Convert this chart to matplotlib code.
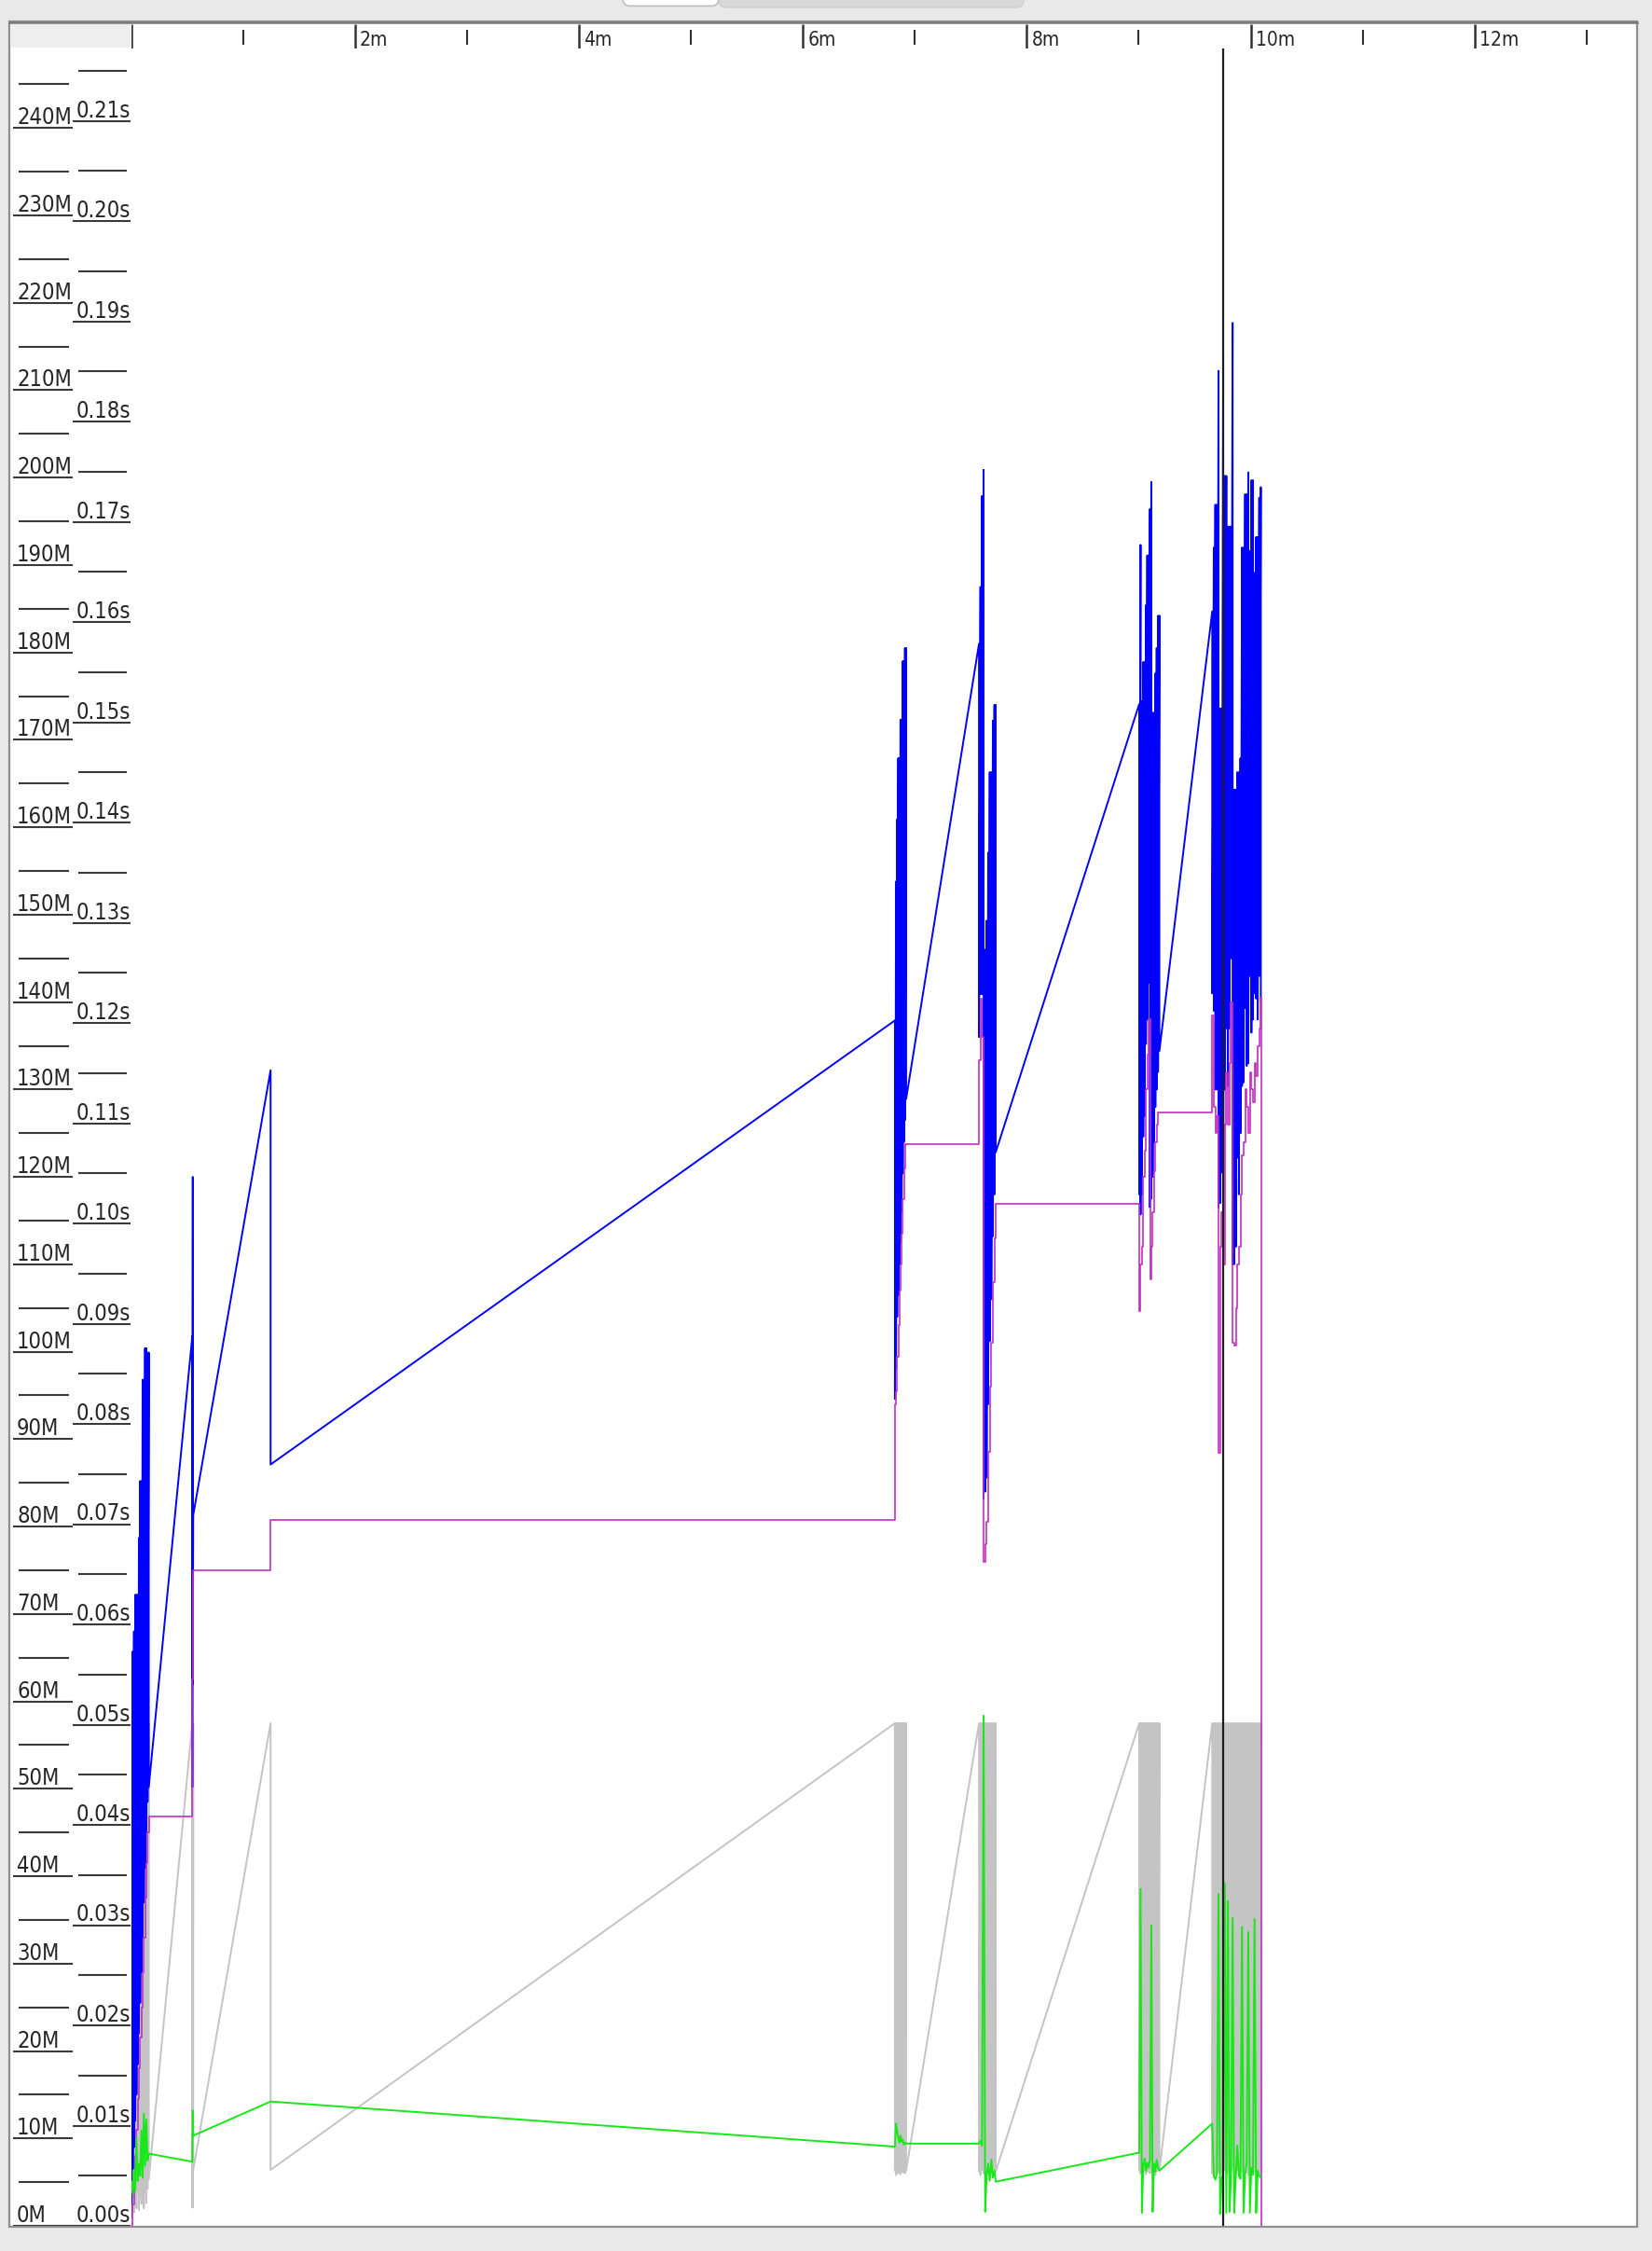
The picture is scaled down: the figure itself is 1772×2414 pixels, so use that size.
import numpy as np
import matplotlib
matplotlib.use("Agg")
import matplotlib.pyplot as plt
from matplotlib import font_manager as fm
from matplotlib.patches import Rectangle, FancyBboxPatch

# GC events
# time in minutes, heap sizes in MB, pauses in seconds

# start-up burst
a_t = [0.004, 0.015, 0.026, 0.037, 0.048, 0.059, 0.070, 0.081, 0.092, 0.103, 0.114, 0.125, 0.136, 0.147, 0.158]
a_heap_before = [59.0, 65.7, 68.0, 72.2, 72.2, 72.2, 78.7, 85.2, 85.2, 96.8, 96.8, 100.4, 100.4, 99.9, 99.9]
a_heap_after = [1.0, 6.5, 9.0, 12.0, 15.0, 18.5, 22.0, 25.5, 29.0, 33.0, 37.0, 41.0, 45.0, 48.5, 50.2]
a_old = [0.0, 2.5, 5.0, 8.0, 11.0, 14.5, 18.0, 21.5, 25.0, 29.0, 33.0, 37.5, 41.5, 45.0, 46.8]
a_young_after = [1.2, 2.8, 1.5, 3.5, 2.0, 4.0, 1.8, 3.2, 2.5, 4.5, 2.0, 3.8, 2.6, 4.2, 5.3]
a_pause = [0.0044, 0.0032, 0.0055, 0.0035, 0.0088, 0.0045, 0.0062, 0.0050, 0.0095, 0.0048, 0.0112, 0.0060, 0.0106, 0.0065, 0.0072]

# the two lone collections
b0_t = [0.547, 0.551, 0.555, 1.246]
b0_heap_before = [101.8, 120.0, 81.3, 132.2]
b0_heap_after = [50.2, 62.0, 81.3, 87.1]
b0_old = [62.5, 75.0, 75.0, 80.8]
b0_young_after = [2.1, 2.1, 6.4, 6.4]
b0_pause = [0.0064, 0.0115, 0.0090, 0.0124]

# burst around 6.9m
b_t = [6.822, 6.832, 6.842, 6.852, 6.862, 6.872, 6.882, 6.892, 6.902, 6.912, 6.922]
b_heap_before = [137.9, 153.8, 160.9, 167.9, 167.9, 172.3, 172.3, 179.0, 179.0, 180.5, 180.5]
b_heap_after = [94.6, 98.0, 104.0, 106.5, 110.0, 112.5, 116.0, 120.4, 124.0, 126.5, 128.9]
b_old = [94.0, 95.5, 99.4, 103.0, 107.0, 110.0, 113.5, 117.5, 121.0, 123.7, 123.7]
b_young_after = [6.3, 5.8, 6.6, 6.0, 6.4, 5.9, 6.5, 6.1, 6.3, 6.0, 6.3]
b_pause = [0.0079, 0.0102, 0.0095, 0.0088, 0.0083, 0.0090, 0.0084, 0.0086, 0.0081, 0.0083, 0.0082]

# burst around 7.6m
c_t = [7.573, 7.586, 7.600, 7.614, 7.628, 7.641, 7.655, 7.669, 7.683, 7.697, 7.711, 7.722]
c_heap_before = [181.0, 187.5, 197.9, 200.9, 146.0, 149.3, 157.1, 166.3, 166.3, 172.2, 174.0, 174.0]
c_heap_after = [136.0, 140.9, 140.9, 83.2, 84.0, 85.6, 94.0, 101.2, 106.0, 113.2, 118.0, 122.8]
c_old = [133.4, 140.4, 136.0, 76.0, 78.0, 80.5, 88.5, 96.0, 101.0, 108.0, 113.0, 116.9]
c_young_after = [6.2, 5.8, 6.4, 6.0, 6.5, 6.1, 5.9, 6.3, 6.0, 6.4, 6.1, 6.2]
c_pause = [0.0082, 0.0085, 0.0080, 0.0509, 0.0014, 0.0050, 0.0062, 0.0045, 0.0066, 0.0048, 0.0055, 0.0044]

# burst around 9.1m
d_t = [9.004, 9.016, 9.028, 9.040, 9.052, 9.064, 9.076, 9.088, 9.100, 9.112, 9.124, 9.136, 9.148, 9.160, 9.172, 9.184]
d_heap_before = [174.1, 192.3, 174.4, 178.9, 178.9, 185.4, 191.1, 191.1, 196.4, 199.5, 173.1, 173.1, 177.6, 180.5, 184.2, 184.2]
d_heap_after = [118.0, 115.7, 118.0, 124.6, 127.0, 135.2, 138.0, 142.2, 116.5, 117.5, 120.0, 124.0, 128.0, 130.0, 132.0, 134.4]
d_old = [104.6, 110.0, 112.0, 120.0, 123.0, 130.0, 134.0, 138.0, 108.3, 112.0, 116.0, 120.7, 124.0, 126.0, 127.4, 127.4]
d_young_after = [6.3, 6.0, 6.5, 6.1, 6.4, 5.9, 6.2, 6.6, 6.0, 6.3, 6.1, 6.5, 5.8, 6.2, 6.4, 6.3]
d_pause = [0.0073, 0.0336, 0.0013, 0.0060, 0.0067, 0.0055, 0.0063, 0.0058, 0.0066, 0.0300, 0.0014, 0.0062, 0.0054, 0.0066, 0.0058, 0.0055]

# last burst, 9.65m .. 10.1m
e_t = [9.656, 9.670, 9.684, 9.698, 9.712, 9.726, 9.740, 9.754, 9.768, 9.782, 9.796, 9.810, 9.824, 9.838, 9.852, 9.866,
       9.880, 9.894, 9.908, 9.922, 9.936, 9.950, 9.964, 9.978, 9.992, 10.006, 10.020, 10.034, 10.048, 10.062, 10.076, 10.090]
e_heap_before = [184.7, 192.0, 196.9, 196.9, 212.2, 173.6, 173.6, 214.0, 200.2, 200.2, 194.4, 194.4, 194.4, 217.7, 164.3, 164.3,
                 166.3, 166.3, 167.9, 192.0, 192.0, 198.1, 198.1, 200.6, 191.6, 199.7, 199.7, 189.1, 193.2, 193.2, 197.7, 198.9]
e_heap_after = [141.0, 139.0, 130.0, 130.0, 116.5, 117.0, 120.5, 116.0, 130.0, 137.0, 130.4, 137.0, 145.0, 110.0, 110.0, 112.0,
                122.2, 118.0, 125.0, 130.4, 130.8, 139.3, 132.7, 133.0, 143.0, 136.5, 138.0, 141.0, 140.4, 138.0, 143.0, 140.2]
e_old = [138.5, 128.0, 125.0, 127.0, 88.4, 112.0, 116.0, 110.0, 126.0, 132.0, 126.0, 133.0, 140.0, 101.0, 100.7, 105.0,
         110.0, 112.0, 118.0, 122.5, 124.0, 130.0, 128.0, 125.0, 132.0, 130.0, 128.5, 133.0, 131.5, 135.0, 137.0, 140.5]
e_young_after = [6.0, 6.4, 5.8, 6.3, 6.1, 6.5, 5.9, 6.2, 6.4, 6.0, 6.3, 5.8, 6.2, 6.5, 6.1, 6.0,
                 6.4, 5.9, 6.3, 6.2, 6.0, 6.5, 6.1, 5.8, 6.3, 6.4, 6.0, 6.2, 6.1, 6.5, 5.9, 6.3]
e_pause = [0.0102, 0.0050, 0.0046, 0.0052, 0.0331, 0.0012, 0.0048, 0.0051, 0.0342, 0.0013, 0.0324, 0.0014, 0.0050, 0.0307, 0.0013, 0.0048,
           0.0080, 0.0050, 0.0047, 0.0298, 0.0013, 0.0052, 0.0062, 0.0293, 0.0013, 0.0058, 0.0051, 0.0306, 0.0013, 0.0055, 0.0050, 0.0048]

young_capacity = 57.5      # young gen size before each collection
old_end_t, old_end = 10.097, 0.0
full_gc_t = [9.757]

mem_ticks = np.arange(0, 250, 10)
time_ticks = np.arange(0, 0.215, 0.01)
minute_ticks = np.arange(0, 14, 2)

# ---- geometry (pixels) ----
W, H, DPI = 1772, 2414, 100
X0, X1 = 140.6, 1755          # t=0 and right edge of plot
Y0, Y1 = 2387, 52             # 0 line and top of plot
PX_MIN = 120.1
PX_MB = 9.374
PX_S = 10750


# narrow label font: whatever condensed face is on the box, else plain and smaller
def label_font():
    for fam, stretch, key in [('DejaVu Sans', 'condensed', 'Condensed'),
                              ('DejaVu Sans Condensed', 'normal', 'Condensed'),
                              ('Liberation Sans Narrow', 'normal', 'Narrow')]:
        try:
            path = fm.findfont(fm.FontProperties(family=fam, stretch=stretch), fallback_to_default=False)
        except ValueError:
            continue
        if key in path:
            return dict(fname=path), 17, 15
    return dict(family='DejaVu Sans'), 14.5, 13.5


FONT, SIZE_Y, SIZE_X = label_font()


def lab_props(size):
    if 'fname' in FONT:
        return fm.FontProperties(fname=FONT['fname'], size=size)
    return fm.FontProperties(family=FONT['family'], size=size)


t = np.concatenate([a_t, b0_t, b_t, c_t, d_t, e_t])
before = np.concatenate([a_heap_before, b0_heap_before, b_heap_before, c_heap_before, d_heap_before, e_heap_before])
after = np.concatenate([a_heap_after, b0_heap_after, b_heap_after, c_heap_after, d_heap_after, e_heap_after])
old = np.concatenate([a_old, b0_old, b_old, c_old, d_old, e_old])
young_after = np.concatenate([a_young_after, b0_young_after, b_young_after, c_young_after, d_young_after, e_young_after])
pause = np.concatenate([a_pause, b0_pause, b_pause, c_pause, d_pause, e_pause])

fig = plt.figure(figsize=(W / DPI, H / DPI), dpi=DPI, facecolor='#e9e9e9')

# window chrome, in pixel coords
bg = fig.add_axes([0, 0, 1, 1], zorder=-5)
bg.set_xlim(0, W)
bg.set_ylim(H, 0)
bg.axis('off')
bg.add_patch(FancyBboxPatch((771, -12), 327, 20, boxstyle='round,pad=0,rounding_size=8',
                            fc='#d9d9d9', ec='#cfcfcf', lw=1))
bg.add_patch(FancyBboxPatch((668, -12), 103, 18.4, boxstyle='round,pad=0,rounding_size=8',
                            fc='white', ec='#bdbdbd', lw=1.2))
bg.add_patch(Rectangle((10, 23), 1746, 2365, fc='white', ec='#8f8f8f', lw=1.6))
bg.plot([10, 1756], [23.5, 23.5], color='#7a7a7a', lw=1.8)
bg.add_patch(Rectangle((12, 26), 128, 25, fc='#eeeeee', ec='none'))

# main plot
ax = fig.add_axes([X0 / W, 1 - Y0 / H, (X1 - X0) / W, (Y0 - Y1) / H])
ax.set_facecolor('none')
ax.set_xlim(0, (X1 - X0) / PX_MIN)
ax.set_ylim(0, (Y0 - Y1) / PX_MB)
ax.axis('off')

sec = ax.twinx()
sec.set_ylim(0, (Y0 - Y1) / PX_S)
sec.axis('off')

# young gen (gray), used heap (blue), tenured (magenta)
ax.plot(np.repeat(t, 2), np.column_stack([np.full(len(t), young_capacity), young_after]).ravel(),
        color='#c4c4c4', lw=1.4, zorder=1)
ax.plot(np.repeat(t, 2), np.column_stack([before, after]).ravel(),
        color='#0000ff', lw=1.4, zorder=2)
ax.step(np.append(t, old_end_t), np.append(old, old_end), where='post',
        color='#c22ec2', lw=1.2, zorder=3)

# pause times (green) and full gc marker
sec.plot(t, pause, color='#18e818', lw=1.4, zorder=4)
for ft in full_gc_t:
    sec.axvline(ft, color='#1e1e1e', lw=1.6, zorder=5)

# left scales
gut = fig.add_axes([10 / W, 1 - Y0 / H, (X0 - 10) / W, (Y0 - Y1) / H])
gut.set_facecolor('none')
gut.set_xlim(10, X0)
gut.set_ylim(0, (Y0 - Y1) / PX_MB)
gut.axis('off')
gsec = gut.twinx()
gsec.set_ylim(0, (Y0 - Y1) / PX_S)
gsec.axis('off')

gut.hlines(mem_ticks, 14, 78, color='#3a3a3a', lw=1.5)
gut.hlines(mem_ticks + 5, 20, 74, color='#3a3a3a', lw=1.5)
for v in mem_ticks:
    gut.annotate('%dM' % v, (18, v), xytext=(0, 4), textcoords='offset pixels',
                 fontproperties=lab_props(SIZE_Y), color='#262626', va='baseline')
gsec.hlines(time_ticks, 78, 140, color='#3a3a3a', lw=1.5)
gsec.hlines(time_ticks + 0.005, 84, 136, color='#3a3a3a', lw=1.5)
for v in time_ticks:
    gsec.annotate('%.2fs' % v, (82, v), xytext=(0, 4), textcoords='offset pixels',
                  fontproperties=lab_props(SIZE_Y), color='#262626', va='baseline')

# time ruler on top
hdr = fig.add_axes([X0 / W, 1 - Y1 / H, (X1 - X0) / W, (Y1 - 25) / H])
hdr.set_facecolor('none')
hdr.set_xlim(ax.get_xlim())
hdr.set_ylim(27, 0)
hdr.axis('off')
hdr.vlines(minute_ticks, 1, 27, color='#333333', lw=1.8)
hdr.vlines(minute_ticks + 1, 7, 23, color='#333333', lw=1.5)
for m in minute_ticks[1:]:
    hdr.annotate('%dm' % m, (m, 24), xytext=(5, 0), textcoords='offset pixels',
                 fontproperties=lab_props(SIZE_X), color='#262626', va='baseline')

fig.savefig('out.png', dpi=DPI, facecolor=fig.get_facecolor())
